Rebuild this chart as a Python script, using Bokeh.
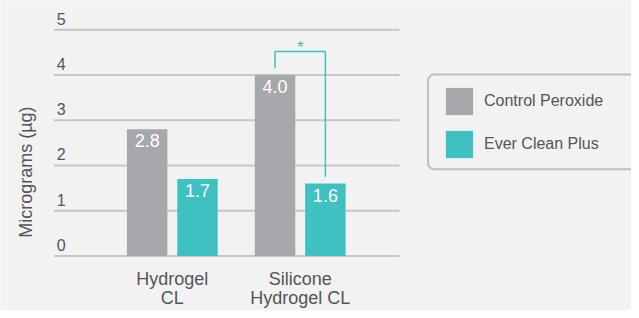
import math
from bokeh.plotting import figure
from bokeh.models import Legend, LegendItem, Range1d, BoxAnnotation
from bokeh.core.properties import value
from bokeh.embed import file_html
from bokeh.resources import INLINE

# ---- data ----
categories = ["Hydrogel\nCL", "Silicone\nHydrogel CL"]
series_names = ["Control Peroxide", "Ever Clean Plus"]
control_peroxide = [2.8, 4.0]
ever_clean_plus = [1.7, 1.6]
y_ticks = [0, 1, 2, 3, 4, 5]
y_axis_title = "Micrograms (µg)"
significance_mark = "*"

# ---- styles ----
GREY = "#a7a8ab"
TEAL = "#40c1c1"
TEXT = "#555555"
GRID = "#c6c6c6"
BG = "#f2f2f2"
FONT_NAME = "Liberation Sans"
FONT = value(FONT_NAME)

W, H = 631, 310
SX, SY = W / 639.0, H / 318.0           # layout designed on a 639x318 canvas
PX_PER_X = 129.5 * SX                   # pixels between group centres
X1 = 174.0 * SX                         # px of first group centre
PX_PER_Y = 46.4 * SY                    # pixels per microgram
Y0 = 262.0 * SY                         # px of y = 0


def fx(px):
    """layout px (639-wide design) -> data x"""
    return 1 + (px * SX - X1) / PX_PER_X


def fy(py):
    """layout px (318-high design) -> data y"""
    return (Y0 - py * SY) / PX_PER_Y


def dx(px):
    return px * SX / PX_PER_X


def dy(py):
    return py * SY / PX_PER_Y


p = figure(width=W, height=H, output_backend="svg", toolbar_location=None,
           x_range=Range1d(fx(0), fx(639)), y_range=Range1d(fy(318), fy(0)),
           min_border=0, min_border_left=0, min_border_right=0,
           min_border_top=0, min_border_bottom=0)
p.background_fill_color = BG
p.border_fill_color = BG
p.outline_line_color = None
p.axis.visible = False
p.grid.visible = False

groups = [i + 1 for i in range(len(categories))]
off = dx(25.5)
bw = dx(41)
gx_grey = [g - off for g in groups]
gx_teal = [g + off for g in groups]

# gridlines
p.segment(x0=fx(54), x1=fx(404), y0=y_ticks, y1=y_ticks, line_color=GRID, line_width=2)

# tick labels
p.text(x=fx(57), y=y_ticks, text=[str(t) for t in y_ticks], text_font=FONT,
       text_font_size="16px", text_color=TEXT, text_align="left",
       text_baseline="bottom", y_offset=-5)

r1 = p.vbar(x=gx_grey, top=control_peroxide, bottom=0, width=bw, fill_color=GREY, line_color=None)
r2 = p.vbar(x=gx_teal, top=ever_clean_plus, bottom=0, width=bw, fill_color=TEAL, line_color=None)

# value labels
p.text(x=gx_grey + gx_teal, y=control_peroxide + ever_clean_plus,
       text=[f"{v:.1f}" for v in control_peroxide + ever_clean_plus],
       text_font=FONT, text_font_size="18px", text_color="white",
       text_align="center", text_baseline="top", y_offset=5)

# category labels
p.text(x=groups, y=[0] * len(groups), text=categories, text_font=FONT,
       text_font_size="18px", text_color=TEXT, text_align="center",
       text_baseline="top", y_offset=13, text_line_height=0.95)

# y-axis title
p.text(x=[fx(26)], y=[fy(176)], text=[y_axis_title], angle=math.pi / 2,
       text_font=FONT, text_font_size="18px", text_color=TEXT,
       text_align="center", text_baseline="middle")

# significance bracket on second group
a, b = gx_grey[1], gx_teal[1]
ytop = max(control_peroxide[1], ever_clean_plus[1]) + dy(24)
p.line(x=[a, a, b, b],
       y=[control_peroxide[1] + dy(7), ytop, ytop, ever_clean_plus[1] + dy(7)],
       line_color=TEAL, line_width=1.5)
p.text(x=[(a + b) / 2], y=[ytop], text=[significance_mark], text_font=FONT,
       text_font_size="17px", text_color=TEAL, text_align="center",
       text_baseline="alphabetic", y_offset=-4)

# legend frame (runs off the right edge, as in the original)
frame = BoxAnnotation(left=fx(433), right=fx(680), top=fy(76), bottom=fy(173),
                      fill_color=BG, fill_alpha=1.0, line_color="#bdbdbd",
                      line_alpha=1.0, line_width=2, border_radius=6,
                      level="annotation")
p.add_layout(frame)

legend = Legend(items=[LegendItem(label=series_names[0], renderers=[r1]),
                       LegendItem(label=series_names[1], renderers=[r2])],
                location=(431, 138), orientation="vertical",
                glyph_width=34, glyph_height=34, label_standoff=8,
                padding=11, spacing=9,
                label_text_font=FONT_NAME, label_text_font_size="16px",
                label_text_color=TEXT, background_fill_alpha=0.0,
                border_line_color="#bdbdbd", border_line_alpha=0.0,
                border_line_width=2, margin=0)
p.add_layout(legend, "center")

open("out.html", "w").write(file_html(p, INLINE))
